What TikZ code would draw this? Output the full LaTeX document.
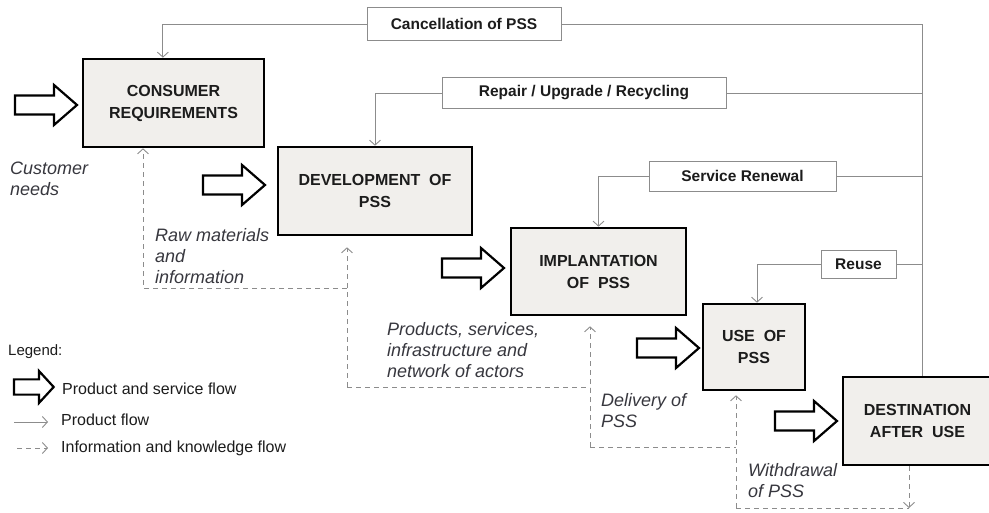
\documentclass[tikz,border=0pt]{standalone}
\usepackage{fontspec}
\setmainfont{Liberation Sans}
\usetikzlibrary{arrows.meta,calc}
\definecolor{boxfill}{RGB}{241,239,236}
\definecolor{linegray}{RGB}{140,140,140}
\definecolor{txt}{RGB}{28,28,28}
\definecolor{itxt}{RGB}{55,55,62}
\begin{document}
\begin{tikzpicture}[x=1pt,y=-1pt,
  proc/.style={draw=black, fill=boxfill, line width=2.6pt, inner sep=0pt, align=center,
    font=\fontsize{16}{22}\selectfont\bfseries, text=txt},
  lbl/.style={draw=linegray, fill=white, line width=0.9pt, inner sep=0pt,
    font=\fontsize{15.5}{18}\selectfont\bfseries, text=txt},
  plain/.style={draw=linegray, line width=0.9pt},
  arr/.style={plain, -{Straight Barb[length=5pt,width=11pt]}},
  info/.style={draw=linegray, line width=0.9pt, dash pattern=on 5pt off 4pt},
  infoarr/.style={info, -{Straight Barb[length=5pt,width=11pt]}},
  itx/.style={inner sep=0pt, anchor=north west, align=left, text=itxt,
    font=\fontsize{18}{21}\selectfont\itshape},
  leg/.style={inner sep=0pt, anchor=west, text=txt, font=\fontsize{16}{19}\selectfont},
  bigarr/.style={draw=black, fill=white, line width=2.2pt, line join=miter},
  bigarrow/.pic={\path[bigarr] (0,-9.5) -- (39,-9.5) -- (39,-20) -- (62,0) -- (39,20) -- (39,9.5) -- (0,9.5) -- cycle;}
]
\useasboundingbox (0,0) rectangle (989,513);

% process boxes
\node[proc, minimum width=181pt, minimum height=88pt] (cr) at (173.5,103) {CONSUMER\\REQUIREMENTS};
\node[proc, minimum width=194pt, minimum height=88pt] (dev) at (375,191) {DEVELOPMENT~ OF\\PSS};
\node[proc, minimum width=175pt, minimum height=87pt] (impl) at (598.5,271.5) {IMPLANTATION\\OF~ PSS};
\node[proc, minimum width=102pt, minimum height=86pt] (use) at (754,347) {USE~ OF\\PSS};
\node[proc, minimum width=149pt, minimum height=88pt] (dest) at (917.5,421) {DESTINATION\\AFTER~ USE};

% feedback label boxes
\node[lbl, minimum width=194pt, minimum height=33pt] (cancel) at (464,24) {Cancellation of PSS};
\node[lbl, minimum width=284pt, minimum height=31pt] (repair) at (584,93) {Repair / Upgrade / Recycling};
\node[lbl, minimum width=187pt, minimum height=30pt] (service) at (742.5,176) {Service Renewal};
\node[lbl, minimum width=75pt, minimum height=28pt] (reuse) at (858.5,264) {Reuse};

% feedback lines
\coordinate (trunk) at (922,24);
\draw[plain] (cancel.east) -- (trunk) -- (trunk |- dest.north);
\draw[plain] (repair.east) -- (repair.east -| trunk);
\draw[plain] (service.east) -- (service.east -| trunk);
\draw[plain] (reuse.east) -- (reuse.east -| trunk);
\draw[arr] (cancel.west) -| ($(cr.north west)!0.442!(cr.north east)$);
\draw[arr] (repair.west) -| (dev.north);
\draw[arr] (service.west) -| (impl.north);
\draw[arr] (reuse.west) -| ([xshift=3pt]use.north);

% big flow arrows
\pic at (15,105) {bigarrow};
\pic at (203,185) {bigarrow};
\pic at (442,268) {bigarrow};
\pic at (637,348) {bigarrow};
\pic at (775,421) {bigarrow};

% information flow (dashed)
\coordinate (p1) at (143,288);
\coordinate (p2) at (347,288);
\coordinate (p3) at (347,387);
\coordinate (p4) at (590,387);
\coordinate (p5) at (590,447);
\coordinate (p6) at (736,447);
\coordinate (p7) at (736,508);
\coordinate (p8) at (909,508);
\draw[infoarr] (p2) -- (p1) -- (p1 |- cr.south);
\draw[infoarr, shorten >=11pt] (p3) -- (p3 |- dev.south);
\draw[info] (p3) -- (p4);
\draw[infoarr, shorten >=10pt] (p5) -- (p5 |- impl.south);
\draw[info] (p5) -- (p6);
\draw[infoarr, shorten >=4pt] (p7) -- (p7 |- use.south);
\draw[info] (p7) -- (p8);
\draw[infoarr] (p8 |- dest.south) -- (p8);

% italic flow labels
\node[itx] (t1) at (10,162) {Customer\\needs};
\node[itx] (t2) at (155,228) {Raw materials\\and\\information};
\node[itx] (t3) at (387,322) {Products, services,\\infrastructure and\\network of actors};
\node[itx] (t4) at (601,393) {Delivery of\\PSS};
\node[itx] (t5) at (748,463) {Withdrawal\\of PSS};

% legend
\node[leg, font=\fontsize{15}{18}\selectfont] (lg0) at (8,352) {Legend:};
\pic[xscale=0.64, yscale=0.8] at (14,387) {bigarrow};
\node[leg] (lg1) at (62,389) {Product and service flow};
\coordinate (la) at (14,422);
\coordinate (lb) at (48,422);
\draw[arr] (la) -- (lb);
\node[leg] (lg2) at (61,420) {Product flow};
\coordinate (lc) at (17,448);
\coordinate (ld) at (48,448);
\draw[infoarr] (lc) -- (ld);
\node[leg] (lg3) at (61,448) {Information and knowledge flow};
\end{tikzpicture}
\end{document}
